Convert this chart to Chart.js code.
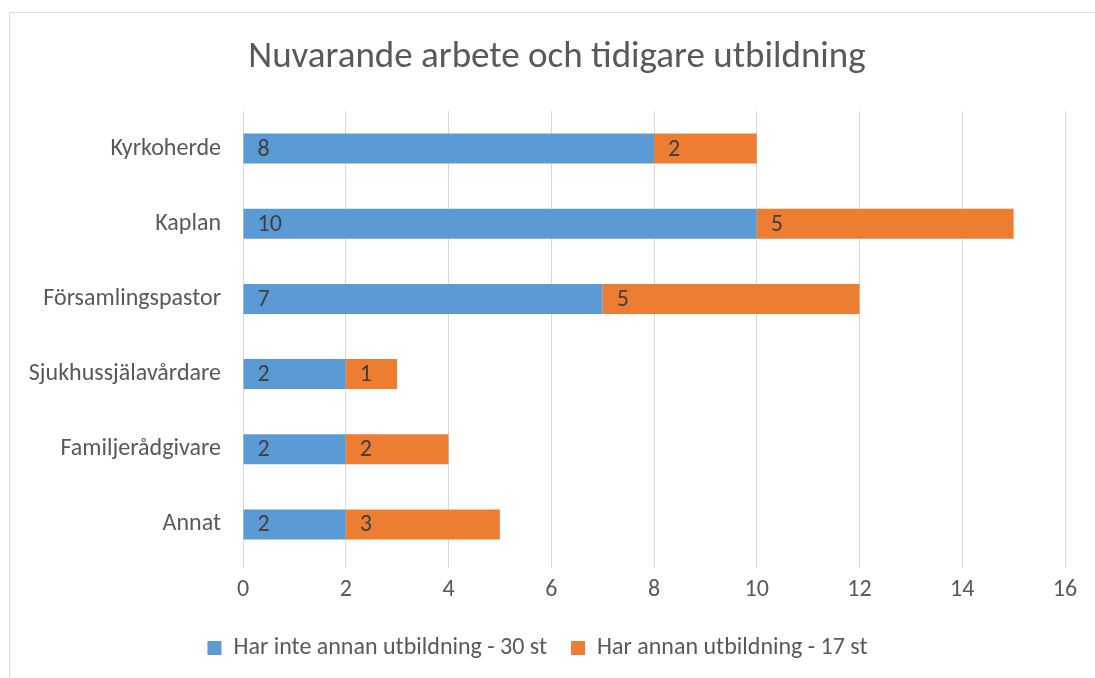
<!DOCTYPE html>
<html>
<head>
<meta charset="utf-8">
<script src="https://cdn.jsdelivr.net/npm/chart.js@4"></script>
<style>
  html, body { margin: 0; padding: 0; background: #fff; overflow: hidden; }
  #frame { position: absolute; left: 9px; top: 12px; width: 1100px; height: 700px; border: 1px solid #d9d9d9; }
  #chart { position: absolute; left: 0; top: 0; }
</style>
</head>
<body>
<div id="frame"></div>
<canvas id="chart" width="1095" height="678"></canvas>
<script>
const categories = ['Kyrkoherde', 'Kaplan', 'Församlingspastor', 'Sjukhussjälavårdare', 'Familjerådgivare', 'Annat'];
const utanUtbildning = [8, 10, 7, 2, 2, 2];
const medUtbildning = [2, 5, 5, 1, 2, 3];
const seriesNames = ['Har inte annan utbildning - 30 st', 'Har annan utbildning - 17 st'];
const chartTitle = 'Nuvarande arbete och tidigare utbildning';

const FONT = 'Carlito, Lato, "Open Sans", sans-serif';
const textColor = '#595959';
const gridColor = '#d9d9d9';

// value labels at the start of each bar segment + the title (centred on the frame, not the plot)
const extras = {
  id: 'extras',
  afterDatasetsDraw(chart) {
    const ctx = chart.ctx;
    ctx.save();
    ctx.font = '24px ' + FONT;
    ctx.fillStyle = '#404040';
    ctx.textAlign = 'left';
    ctx.textBaseline = 'middle';
    chart.data.datasets.forEach((ds, i) => {
      chart.getDatasetMeta(i).data.forEach((bar, j) => {
        const left = Math.min(bar.x, bar.base);
        ctx.fillText(String(ds.data[j]), left + 14, bar.y + 1);
      });
    });

    ctx.font = '37px ' + FONT;
    ctx.fillStyle = textColor;
    ctx.textAlign = 'center';
    ctx.fillText(chartTitle, 557, 58);
    ctx.restore();
  }
};

new Chart(document.getElementById('chart'), {
  type: 'bar',
  data: {
    labels: categories,
    datasets: [
      { label: seriesNames[0], data: utanUtbildning, backgroundColor: '#5b9bd5' },
      { label: seriesNames[1], data: medUtbildning, backgroundColor: '#ed7d31' },
    ],
  },
  options: {
    indexAxis: 'y',
    responsive: false,
    animation: false,
    categoryPercentage: 1,
    barPercentage: 0.4,
    layout: { padding: { left: 10, right: 30, top: 111, bottom: 8 } },
    plugins: {
      title: { display: false },
      legend: {
        position: 'bottom',
        labels: {
          color: textColor,
          font: { family: FONT, size: 24 },
          boxWidth: 14,
          boxHeight: 14,
          padding: 24,
        },
      },
      tooltip: { enabled: false },
    },
    scales: {
      x: {
        stacked: true,
        min: 0,
        max: 16,
        ticks: { stepSize: 2, color: textColor, font: { family: FONT, size: 24, lineHeight: 1 }, padding: 10 },
        grid: { color: gridColor, tickLength: 6, tickColor: gridColor },
        border: { display: false },
      },
      y: {
        stacked: true,
        ticks: { color: textColor, font: { family: FONT, size: 24 }, padding: 22 },
        grid: { display: false, drawTicks: false },
        border: { display: false },
        afterFit(scale) { scale.width = 233; },
      },
    },
  },
  plugins: [extras],
});
</script>
</body>
</html>
